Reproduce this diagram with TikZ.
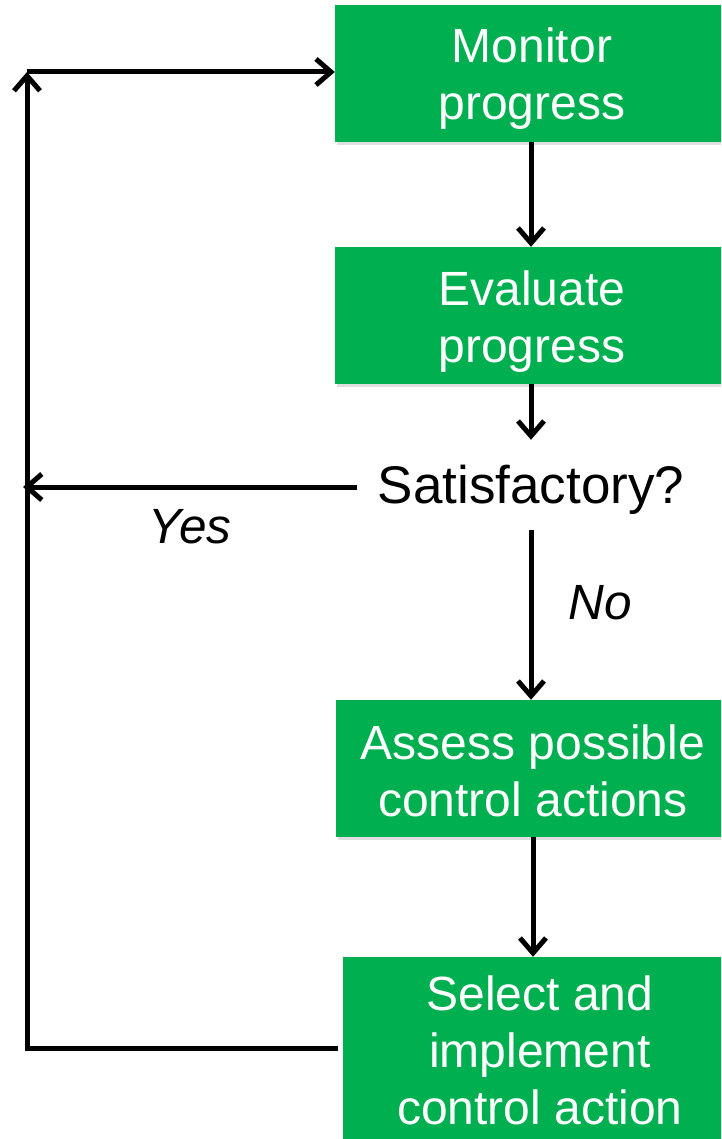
\documentclass[tikz,border=0pt]{standalone}
\usepackage{fontspec}
\setmainfont{Liberation Sans}
\usetikzlibrary{arrows.meta,shadows}
\definecolor{boxgreen}{RGB}{0,176,80}
\newcommand{\lift}[1]{\rule{0pt}{#1}}
\tikzset{
  box/.style={draw=none, fill=boxgreen, text=white, align=center, minimum width=394pt,
    minimum height=137pt, inner sep=0pt, font=\fontsize{48}{57}\selectfont,
    drop shadow={shadow xshift=2pt, shadow yshift=-3pt, opacity=0.25}},
  conn/.style={line width=5pt, draw=black},
  arr/.style={conn, -{Straight Barb[length=15pt,width=26pt]}},
  lbl/.style={font=\fontsize{49.5}{57}\selectfont\itshape, inner sep=0pt}
}
\begin{document}
\begin{tikzpicture}[x=1pt,y=-1pt]
\useasboundingbox (0,0) rectangle (721,1139);
\fill[white] (0,0) rectangle (721,1139);
\clip (0,0) rectangle (721,1139);
\node[box] (monitor) at (532,73.5) {\lift{45pt}Monitor\\progress};
\node[box] (evaluate) at (532,315.5) {\lift{46pt}Evaluate\\progress};
\node[font=\fontsize{53}{57}\selectfont, inner xsep=21pt, inner ysep=0pt, minimum height=90pt] (sat) at (531,485) {\lift{47pt}Satisfactory?};
\node[box] (assess) at (533,768.5) {\lift{40pt}Assess possible\\control actions};
\node[box, minimum height=182pt] (select) at (540,1048) {\lift{39pt}Select and\\implement\\control action};
\coordinate (topleft) at (27,72);
\coordinate (yesend) at (23,487);
\node[lbl] (yes) at (190,527) {Yes};
\node[lbl] (no) at (600,603) {No};
\draw[arr] (monitor.south -| 531,0) -- (evaluate.north -| 531,0);
\draw[arr] (evaluate.south -| 531,0) -- (sat.north -| 531,0);
\draw[arr] (sat.west |- yesend) -- (yesend);
\draw[arr] (sat.south -| 531,0) -- (assess.north -| 531,0);
\draw[arr] (assess.south -| 533,0) -- (select.north -| 533,0);
\draw[arr] ([xshift=-5pt]select.west) -| (topleft);
\draw[arr] (topleft) -- (topleft -| monitor.west);
\end{tikzpicture}
\end{document}
